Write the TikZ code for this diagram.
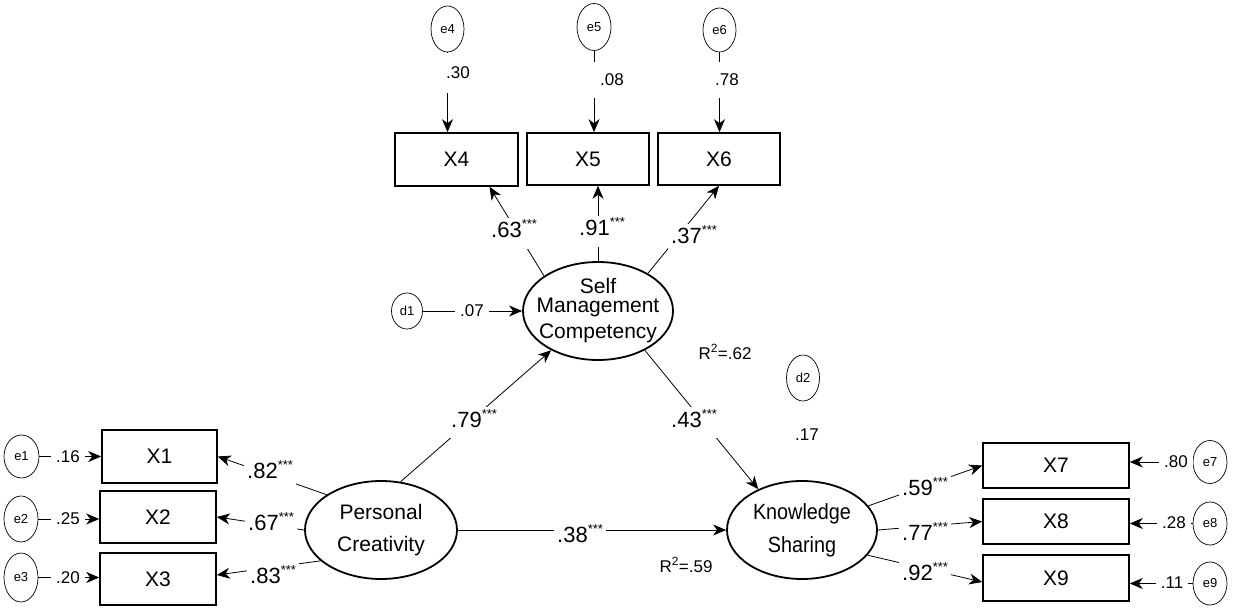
\documentclass[tikz,border=0pt]{standalone}
\usepackage{fontspec}
\setmainfont{Liberation Sans}
\newfontfamily\ksfont[FakeStretch=0.9]{Liberation Sans}
\usetikzlibrary{arrows.meta,calc,shapes.geometric}
\pgfdeclarelayer{bg}
\pgfsetlayers{bg,main}
\newcommand\mystars{{\fontsize{13}{13}\selectfont\raisebox{9pt}{***}}}
\begin{document}
\begin{tikzpicture}[x=1pt,y=-1pt,
  obs/.style={draw,line width=1.6pt,inner sep=0pt,font=\fontsize{21}{24}\selectfont},
  lat/.style={draw,ellipse,line width=1.8pt,inner xsep=-45pt,inner ysep=-25pt,minimum width=150pt,minimum height=98pt,align=center,font=\fontsize{21}{22}\selectfont},
  err/.style={draw,ellipse,line width=0.7pt,inner sep=0pt,minimum width=34pt,minimum height=44pt,fill=white,font=\fontsize{13}{15}\selectfont},
  conn/.style={line width=0.8pt,-{Stealth[length=13pt,width=11pt,inset=4pt]}},
  coef/.style={fill=white,inner xsep=3pt,inner ysep=3pt,text height=17pt,text depth=8pt,anchor=base west,font=\fontsize{22}{26}\selectfont},
  errlab/.style={fill=white,inner xsep=5pt,inner ysep=12pt,font=\fontsize{17}{20}\selectfont},
  plain/.style={inner sep=2pt,font=\fontsize{17}{20}\selectfont},
  ]
\useasboundingbox (0,0) rectangle (1247,609);

% observed variables
\node[obs,minimum width=115pt,minimum height=53pt] (x1) at (159.5,456.5) {X1};
\node[obs,minimum width=116pt,minimum height=52pt] (x2) at (158,517) {X2};
\node[obs,minimum width=116pt,minimum height=52pt] (x3) at (158,579) {X3};
\node[obs,minimum width=123pt,minimum height=53pt] (x4) at (456.5,159.5) {X4};
\node[obs,minimum width=122pt,minimum height=52pt] (x5) at (588,159) {X5};
\node[obs,minimum width=122pt,minimum height=52pt] (x6) at (719,159) {X6};
\node[obs,minimum width=146pt,minimum height=45pt] (x7) at (1056,465.5) {X7};
\node[obs,minimum width=146pt,minimum height=45pt] (x8) at (1056,521.5) {X8};
\node[obs,minimum width=146pt,minimum height=46pt] (x9) at (1056,578) {X9};

% latent variables
\node[lat] (smc) at (598,311) {Self\\[-3pt]Management\\[4pt]Competency};
\node[lat,minimum width=152pt] (pc) at (381,530) {Personal\\[10pt]Creativity};
\node[lat,font=\ksfont\fontsize{22}{22}\selectfont] (ks) at (802,530) {Knowledge\\[11pt]Sharing};

% error terms
\node[err,minimum width=35pt,minimum height=43pt] (e1) at (21.5,456.5) {e1};
\node[err,minimum width=34pt,minimum height=46pt] (e2) at (21,519) {e2};
\node[err,minimum width=34pt,minimum height=49pt] (e3) at (21,577.5) {e3};
\node[err,minimum width=33pt,minimum height=46pt] (e4) at (447.5,29) {e4};
\node[err,minimum width=34pt,minimum height=47pt] (e5) at (594,27) {e5};
\node[err,minimum width=33pt,minimum height=44pt] (e6) at (719.5,30) {e6};
\node[err,minimum width=31pt,minimum height=36pt] (d1) at (407,311) {d1};
\node[err,minimum width=33pt,minimum height=46pt] (d2) at (803,378) {d2};
\node[err,minimum width=34pt,minimum height=43pt] (e7) at (1210,462) {e7};
\node[err,minimum width=34pt,minimum height=43pt] (e8) at (1210,523.5) {e8};
\node[err,minimum width=34pt,minimum height=43pt] (e9) at (1210,583.5) {e9};

% connectors
\begin{pgfonlayer}{bg}
\draw[conn] (e1.east) -- (e1.east -| x1.west);
\draw[conn] (e2.east) -- (e2.east -| x2.west);
\draw[conn] (e3.east) -- (e3.east -| x3.west);
\draw[conn] (e4.south) -- (e4.south |- x4.north);
\draw[conn] (e5.south) -- (e5.south |- x5.north);
\draw[conn] (e6.south) -- (e6.south |- x6.north);
\draw[conn] (e7.west) -- (e7.west -| x7.east);
\draw[conn] (e8.west) -- (e8.west -| x8.east);
\draw[conn] (e9.west) -- (e9.west -| x9.east);
\draw[conn] (d1) -- (smc);
\draw[conn] (pc.147) -- (x1.east);
\draw[conn] (pc.west) -- (x2.east);
\draw[conn] (pc.207) -- ($(x3.east)+(0,-4)$);
\draw[conn] (smc.147) -- ($(x4.south)+(33,0)$);
\draw[conn] (smc.north) -- ($(x5.south)+(10,0)$);
\draw[conn] (smc.37) -- (x6.south);
\draw[conn] (ks.20) -- (x7.west);
\draw[conn] (ks.east) -- (x8.west);
\draw[conn] (ks.339) -- ($(x9.west)+(0,4)$);
\draw[conn] (pc.68) -- (smc.220);
\draw[conn] (smc.320) -- (ks.137);
\draw[conn] (pc) -- (ks);
\end{pgfonlayer}

% coefficient labels
\node[coef] (l82) at (244,478) {.82\mystars};
\node[coef] (l67) at (245,530) {.67\mystars};
\node[coef] (l83) at (247,583) {.83\mystars};
\node[coef] (l63) at (488,238) {.63\mystars};
\node[coef] (l91) at (576,236) {.91\mystars};
\node[coef] (l37) at (668,244) {.37\mystars};
\node[coef] (l79) at (448,427) {.79\mystars};
\node[coef] (l43) at (668,427) {.43\mystars};
\node[coef] (l38) at (554,542) {.38\mystars};
\node[coef] (l59) at (899,495) {.59\mystars};
\node[coef] (l77) at (899,540) {.77\mystars};
\node[coef] (l92) at (899,580) {.92\mystars};

% error / residual labels
\node[errlab] (v1) at (68,456.5) {.16};
\node[errlab] (v2) at (68,519) {.25};
\node[errlab] (v3) at (68,577.5) {.20};
\node[errlab,inner ysep=14pt] (v4) at (458,73) {.30};
\node[errlab,inner xsep=15pt] (v5) at (612,80) {.08};
\node[errlab] (v6) at (727,80) {.78};
\node[errlab] (vd1) at (472,311) {.07};
\node[errlab,inner ysep=4pt] (v7) at (1176,462) {.80};
\node[errlab,inner ysep=4pt] (v8) at (1174,523) {.28};
\node[errlab,inner ysep=4pt] (v9) at (1172,583) {.11};
\node[plain] (vd2) at (807,435) {.17};
\node[plain] (r1) at (725,352) {R\textsuperscript{2}=.62};
\node[plain] (r2) at (686,565) {R\textsuperscript{2}=.59};
\end{tikzpicture}
\end{document}
